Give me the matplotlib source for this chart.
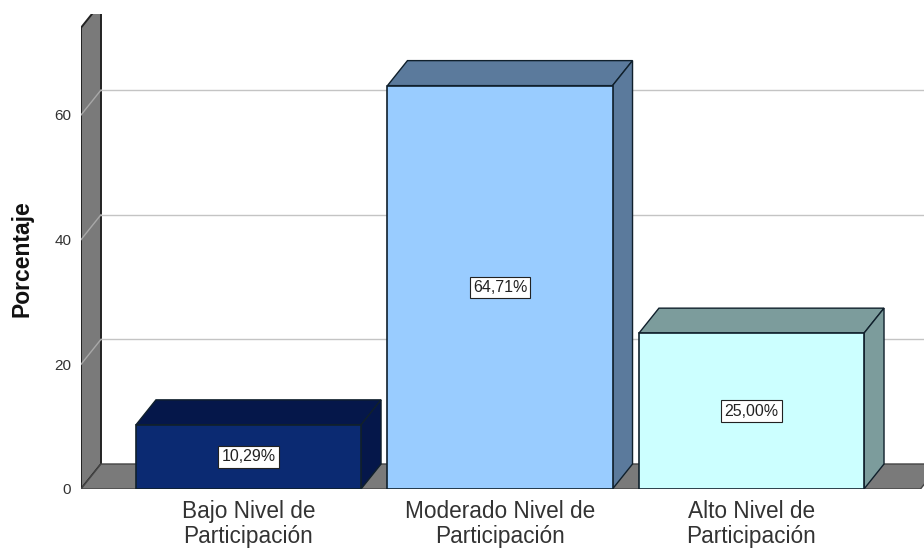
import matplotlib
matplotlib.use('Agg')
import matplotlib.pyplot as plt
from matplotlib.patches import Polygon, Rectangle

# values
categorias = ['Bajo Nivel de\nParticipación', 'Moderado Nivel de\nParticipación', 'Alto Nivel de\nParticipación']
porcentajes = [10.29, 64.71, 25.00]
etiquetas = ['10,29%', '64,71%', '25,00%']
ticks_y = [0, 20, 40, 60]

frente = ['#0b2a72', '#99ccff', '#ccffff']
tapa = ['#05174a', '#5b7a9c', '#7c9c9c']
lado = ['#05174a', '#5b7a9c', '#7c9c9c']

plt.rcParams['font.family'] = ['Liberation Sans', 'DejaVu Sans']

fig = plt.figure(figsize=(9.24, 5.48), dpi=100)
ax = fig.add_axes([81 / 924, 59 / 548, 843 / 924, 475 / 548])
ax.set_xlim(-0.666, 2.686)
ax.set_ylim(0, 76.2)

# depth of the fake 3d, in data units
dx = 20 / 251.5
dy = 25 / 6.233
x0 = -0.666
x1 = 2.672
techo = 74
ancho = 0.895

# back wall, left wall and floor
ax.add_patch(Polygon([(x0, 0), (x0 + dx, dy), (x0 + dx, techo + dy), (x0, techo)],
                     fc='#7a7a7a', ec='#222222', lw=1.4, zorder=1))
ax.add_patch(Polygon([(x0, 0), (x0 + dx, dy), (x1 + dx, dy), (x1, 0)],
                     fc='#7a7a7a', ec='#444444', lw=1.0, zorder=1))
for t in ticks_y[1:]:
    ax.plot([x0 + dx, x1 + dx], [t + dy, t + dy], color='#c4c4c4', lw=1, zorder=2)
    ax.plot([x0, x0 + dx], [t, t + dy], color='#a8a8a8', lw=1, zorder=2)

# bars
for i, v in enumerate(porcentajes):
    a = i - ancho / 2
    b = i + ancho / 2
    ax.add_patch(Polygon([(a, v), (a + dx, v + dy), (b + dx, v + dy), (b, v)],
                         fc=tapa[i], ec='#10202c', lw=1.0, zorder=3))
    ax.add_patch(Polygon([(b, 0), (b + dx, dy), (b + dx, v + dy), (b, v)],
                         fc=lado[i], ec='#10202c', lw=1.0, zorder=3))
    ax.add_patch(Rectangle((a, 0), ancho, v, fc=frente[i], ec='#10202c', lw=1.2, zorder=4))
    ax.text(i, v / 2, etiquetas[i], ha='center', va='center', fontsize=11.5, color='#222222', zorder=5,
            bbox=dict(boxstyle='square,pad=0.2', fc='white', ec='#222222', lw=0.8))

for s in ax.spines.values():
    s.set_visible(False)
ax.patch.set_visible(False)
ax.set_xticks(range(3))
ax.set_xticklabels(categorias, fontsize=16.3, color='#333333', linespacing=1.1)
ax.set_yticks(ticks_y)
ax.set_yticklabels([str(t) for t in ticks_y], fontsize=11, color='#333333')
ax.tick_params(axis='both', length=0)
ax.tick_params(axis='x', pad=8)
ax.tick_params(axis='y', pad=7)
ax.set_ylabel('Porcentaje', fontsize=16.5, fontweight='bold', color='#111111', labelpad=0)
ax.yaxis.set_label_coords(-0.056, 0.486)

fig.savefig('out.png', dpi=100)
